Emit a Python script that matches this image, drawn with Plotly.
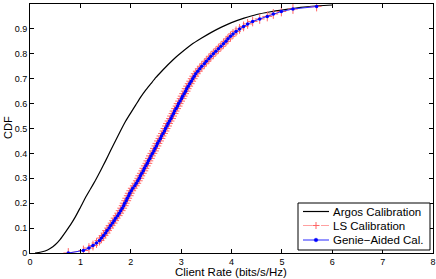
import plotly.graph_objects as go

# Argos Calibration (black solid line)
argos_x = [0.10, 0.20, 0.30, 0.40, 0.50, 0.60, 0.70, 0.80, 0.90, 1.00, 1.10, 1.20, 1.30,
           1.40, 1.50, 1.60, 1.70, 1.80, 1.90, 2.00, 2.10, 2.20, 2.30, 2.40, 2.50, 2.60,
           2.70, 2.80, 2.90, 3.00, 3.20, 3.40, 3.60, 3.80, 4.00, 4.25, 4.50, 4.75, 5.00,
           5.25, 5.50, 5.75, 6.00]
argos_y = [0.000, 0.003, 0.008, 0.018, 0.033, 0.055, 0.083, 0.112, 0.145, 0.183, 0.222,
           0.257, 0.292, 0.330, 0.370, 0.412, 0.452, 0.492, 0.530, 0.563, 0.595, 0.627,
           0.655, 0.680, 0.705, 0.727, 0.748, 0.768, 0.787, 0.804, 0.836, 0.862, 0.886,
           0.907, 0.925, 0.943, 0.958, 0.968, 0.976, 0.983, 0.989, 0.993, 0.996]

# CDF levels for the calibrated curves
cdf_levels = [0.00, 0.01, 0.02, 0.03, 0.04, 0.05, 0.06, 0.07, 0.08, 0.09,
              0.10, 0.11, 0.12, 0.13, 0.14, 0.15, 0.16, 0.17, 0.18, 0.19,
              0.20, 0.21, 0.22, 0.23, 0.24, 0.25, 0.26, 0.27, 0.28, 0.29,
              0.30, 0.31, 0.32, 0.33, 0.34, 0.35, 0.36, 0.37, 0.38, 0.39,
              0.40, 0.41, 0.42, 0.43, 0.44, 0.45, 0.46, 0.47, 0.48, 0.49,
              0.50, 0.51, 0.52, 0.53, 0.54, 0.55, 0.56, 0.57, 0.58, 0.59,
              0.60, 0.61, 0.62, 0.63, 0.64, 0.65, 0.66, 0.67, 0.68, 0.69,
              0.70, 0.71, 0.72, 0.73, 0.74, 0.75, 0.76, 0.77, 0.78, 0.79,
              0.80, 0.81, 0.82, 0.83, 0.84, 0.85, 0.86, 0.87, 0.88, 0.89,
              0.90, 0.91, 0.92, 0.93, 0.94, 0.95, 0.96, 0.97, 0.98, 0.99]

# Genie-Aided Cal. rates at each CDF level
genie_x = [0.76, 1.06, 1.17, 1.25, 1.32, 1.38, 1.42, 1.46, 1.50, 1.53,
           1.57, 1.60, 1.64, 1.67, 1.70, 1.74, 1.77, 1.80, 1.83, 1.86,
           1.88, 1.91, 1.93, 1.96, 1.98, 2.01, 2.04, 2.08, 2.11, 2.14,
           2.17, 2.19, 2.22, 2.25, 2.27, 2.30, 2.33, 2.35, 2.38, 2.40,
           2.43, 2.46, 2.48, 2.51, 2.53, 2.56, 2.59, 2.61, 2.64, 2.67,
           2.69, 2.72, 2.74, 2.77, 2.80, 2.82, 2.85, 2.87, 2.90, 2.93,
           2.95, 2.98, 3.01, 3.03, 3.06, 3.09, 3.11, 3.14, 3.17, 3.20,
           3.23, 3.26, 3.29, 3.33, 3.37, 3.41, 3.46, 3.50, 3.55, 3.59,
           3.64, 3.69, 3.74, 3.79, 3.84, 3.89, 3.93, 3.98, 4.03, 4.09,
           4.16, 4.24, 4.32, 4.42, 4.56, 4.71, 4.83, 4.99, 5.22, 5.69]

# LS Calibration rates (visually indistinguishable from genie-aided)
ls_x = [0.76, 1.06, 1.17, 1.25, 1.32, 1.38, 1.42, 1.46, 1.50, 1.53,
        1.57, 1.60, 1.64, 1.67, 1.70, 1.74, 1.77, 1.80, 1.83, 1.86,
        1.88, 1.91, 1.93, 1.96, 1.98, 2.01, 2.04, 2.08, 2.11, 2.14,
        2.17, 2.19, 2.22, 2.25, 2.27, 2.30, 2.33, 2.35, 2.38, 2.40,
        2.43, 2.46, 2.48, 2.51, 2.53, 2.56, 2.59, 2.61, 2.64, 2.67,
        2.69, 2.72, 2.74, 2.77, 2.80, 2.82, 2.85, 2.87, 2.90, 2.93,
        2.95, 2.98, 3.01, 3.03, 3.06, 3.09, 3.11, 3.14, 3.17, 3.20,
        3.23, 3.26, 3.29, 3.33, 3.37, 3.41, 3.46, 3.50, 3.55, 3.59,
        3.64, 3.69, 3.74, 3.79, 3.84, 3.89, 3.93, 3.98, 4.03, 4.09,
        4.16, 4.24, 4.32, 4.42, 4.56, 4.71, 4.83, 4.99, 5.22, 5.69]

series_names = ["Argos Calibration", "LS Calibration", "Genie\u2212Aided Cal."]
x_ticks = [0, 1, 2, 3, 4, 5, 6, 7, 8]
y_ticks = [0, 0.1, 0.2, 0.3, 0.4, 0.5, 0.6, 0.7, 0.8, 0.9, 1]
y_tick_labels = ["0", "0.1", "0.2", "0.3", "0.4", "0.5", "0.6", "0.7", "0.8", "0.9", "1"]

FONT = "Liberation Sans, Arial, sans-serif"
BLACK_LINE = dict(color="black", width=1.2)
RED_LINE = "rgb(255,160,160)"
RED_MARK = "rgb(255,100,100)"
BLUE_LINE = "rgb(40,40,255)"

fig = go.Figure()
fig.add_trace(go.Scatter(
    x=argos_x, y=argos_y, mode="lines", name=series_names[0],
    line=dict(shape="spline", smoothing=0.5, **BLACK_LINE), showlegend=False,
))
fig.add_trace(go.Scatter(
    x=ls_x, y=cdf_levels, mode="lines+markers", name=series_names[1],
    line=dict(color=RED_LINE, width=1, dash="dash"),
    marker=dict(symbol="cross-thin", size=7, color=RED_MARK,
                line=dict(color=RED_MARK, width=1)),
    showlegend=False,
))
fig.add_trace(go.Scatter(
    x=genie_x, y=cdf_levels, mode="lines+markers", name=series_names[2],
    line=dict(color=BLUE_LINE, width=1),
    marker=dict(symbol="circle", size=3.5, color="blue"),
    showlegend=False,
))

axis_common = dict(
    showgrid=False, zeroline=False, showline=True, linecolor="black", linewidth=1,
    mirror="ticks", ticks="inside", ticklen=4, tickcolor="black", tickwidth=1,
    tickfont=dict(family=FONT, size=9, color="black"), automargin=False,
)

# ---- plot-area geometry (pixels) used only to place the custom legend ----
L, R, T, B, W, H = 30, 3, 4, 26, 436, 279
PW, PH = W - L - R, H - T - B


def px(xp):
    return (xp - L) / PW


def py(yp):
    return (H - B - yp) / PH


shapes = [dict(type="rect", xref="paper", yref="paper",
               x0=px(298), x1=px(430), y0=py(250), y1=py(203),
               line=dict(color="black", width=1), fillcolor="white", layer="above")]
annotations = []
rows_y = [211.5, 225.5, 240.0]
sx0, sx1, smid = 303, 329, 316
for i, name in enumerate(series_names):
    yy = py(rows_y[i])
    if i == 0:
        shapes.append(dict(type="line", xref="paper", yref="paper", x0=px(sx0), x1=px(sx1),
                           y0=yy, y1=yy, line=BLACK_LINE, layer="above"))
    elif i == 1:
        shapes.append(dict(type="line", xref="paper", yref="paper", x0=px(sx0), x1=px(sx1),
                           y0=yy, y1=yy, line=dict(color=RED_LINE, width=1, dash="dash"),
                           layer="above"))
        shapes.append(dict(type="line", xref="paper", yref="paper", x0=px(smid - 3.5),
                           x1=px(smid + 3.5), y0=yy, y1=yy,
                           line=dict(color=RED_MARK, width=1), layer="above"))
        shapes.append(dict(type="line", xref="paper", yref="paper", x0=px(smid), x1=px(smid),
                           y0=py(rows_y[i] - 3.5), y1=py(rows_y[i] + 3.5),
                           line=dict(color=RED_MARK, width=1), layer="above"))
    else:
        shapes.append(dict(type="line", xref="paper", yref="paper", x0=px(sx0), x1=px(sx1),
                           y0=yy, y1=yy, line=dict(color=BLUE_LINE, width=1), layer="above"))
        shapes.append(dict(type="circle", xref="paper", yref="paper",
                           x0=px(smid - 1.8), x1=px(smid + 1.8),
                           y0=py(rows_y[i] + 1.8), y1=py(rows_y[i] - 1.8),
                           fillcolor="blue", line=dict(color="blue", width=0.5),
                           layer="above"))
    annotations.append(dict(text=name, xref="paper", yref="paper", x=px(331), y=yy,
                            xanchor="left", yanchor="middle", showarrow=False,
                            font=dict(family=FONT, size=11.5, color="black")))

annotations.append(dict(text="Client Rate (bits/s/Hz)", xref="paper", yref="paper",
                        x=px(231), y=py(272), xanchor="center", yanchor="middle",
                        showarrow=False, font=dict(family=FONT, size=11.5, color="black")))
annotations.append(dict(text="CDF", xref="paper", yref="paper", x=px(8), y=py(128),
                        xanchor="center", yanchor="middle", textangle=-90,
                        showarrow=False, font=dict(family=FONT, size=11, color="black")))

fig.update_layout(
    width=W, height=H,
    margin=dict(l=L, r=R, t=T, b=B),
    paper_bgcolor="white", plot_bgcolor="white",
    font=dict(family=FONT, color="black"),
    showlegend=False,
    shapes=shapes, annotations=annotations,
    xaxis=dict(range=[0, 8], tickvals=x_ticks, **axis_common),
    yaxis=dict(range=[0, 1], tickvals=y_ticks, ticktext=y_tick_labels, **axis_common),
)

fig.write_html("out.html", config={"displayModeBar": False},
               post_script="document.body.style.margin='0px';document.body.style.overflow='hidden';")
